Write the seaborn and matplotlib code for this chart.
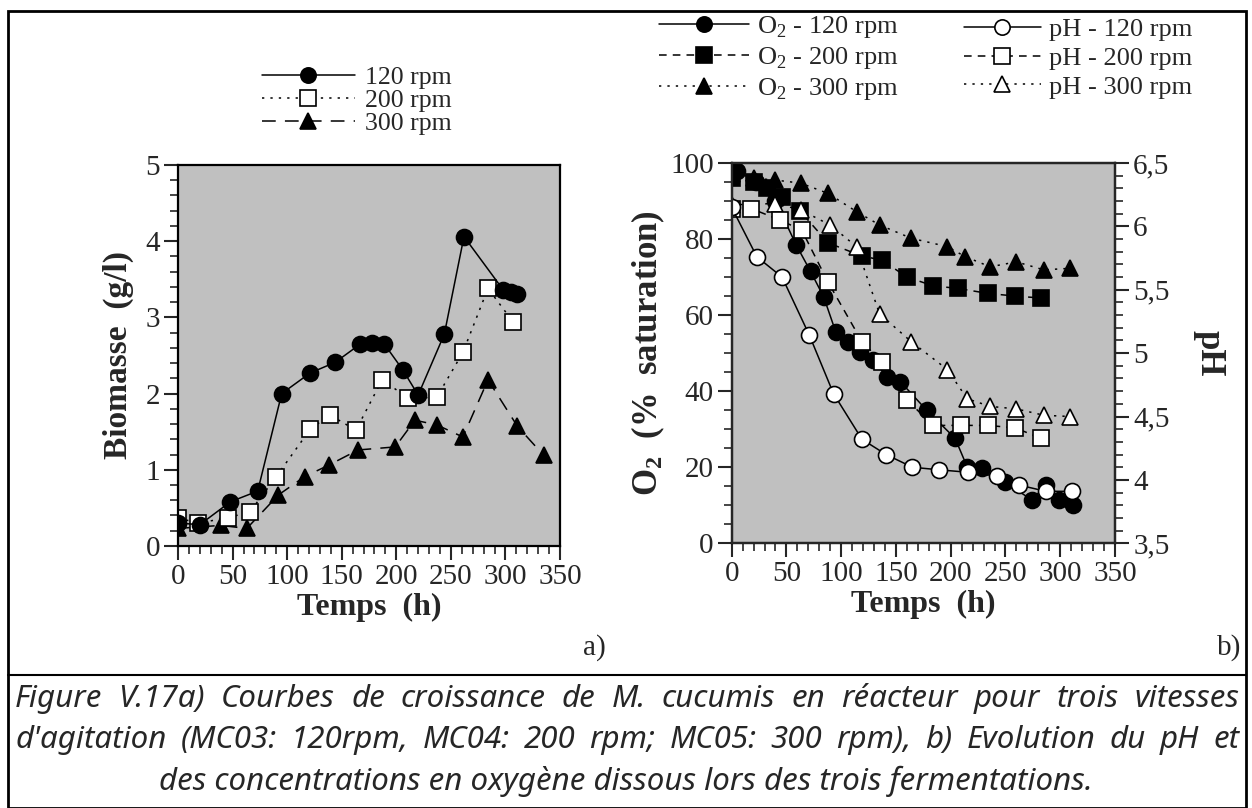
import numpy as np
import pandas as pd
import seaborn as sns
import matplotlib.pyplot as plt
from matplotlib.lines import Line2D
from matplotlib.patches import Rectangle
from matplotlib.ticker import MultipleLocator

# ---- data: a) biomass vs time ----
t_bio_120 = [0, 20, 48, 73, 95, 121, 144, 167, 178, 189, 206, 220, 244, 262, 298, 305, 311]
bio_120 = [0.30, 0.28, 0.58, 0.72, 2.00, 2.27, 2.41, 2.65, 2.66, 2.65, 2.31, 1.98, 2.78, 4.06, 3.36, 3.33, 3.31]
t_bio_200 = [0, 18, 46, 66, 90, 121, 139, 163, 187, 211, 237, 261, 284, 307]
bio_200 = [0.37, 0.30, 0.37, 0.45, 0.91, 1.53, 1.72, 1.52, 2.18, 1.94, 1.95, 2.54, 3.38, 2.94]
t_bio_300 = [0, 39, 63, 92, 116, 138, 165, 199, 217, 237, 261, 284, 311, 335]
bio_300 = [0.23, 0.27, 0.23, 0.67, 0.91, 1.06, 1.26, 1.30, 1.65, 1.59, 1.43, 2.18, 1.57, 1.19]

# ---- data: b) dissolved O2 and pH ----
t_o2_120 = [5, 22, 40, 59, 72, 84, 95, 106, 117, 129, 142, 154, 178, 204, 215, 229, 250, 274, 287, 299, 312]
o2_120 = [98, 95, 90, 78.4, 71.5, 64.8, 55.6, 53, 50.4, 48.2, 43.8, 42.5, 35, 27.6, 20.1, 19.7, 16, 11.4, 15.3, 11.4, 10.1]
t_o2_200 = [0, 20, 32, 46, 62, 88, 119, 137, 160, 184, 207, 234, 259, 282]
o2_200 = [96, 95, 93.5, 91, 87.5, 79, 75.5, 74.5, 70, 67.7, 67, 65.7, 65, 64.5]
t_o2_300 = [0, 20, 40, 63, 88, 114, 135, 164, 197, 213, 236, 260, 285, 309]
o2_300 = [97, 96, 95.5, 94.7, 92, 87.2, 83.7, 80.2, 78, 75.4, 72.7, 74, 71.9, 72.3]

t_ph_120 = [0, 23, 46, 71, 93, 119, 141, 165, 189, 216, 242, 262, 287, 311]
ph_120 = [6.15, 5.76, 5.60, 5.14, 4.68, 4.32, 4.20, 4.10, 4.08, 4.06, 4.03, 3.96, 3.91, 3.91]
t_ph_200 = [0, 18, 44, 64, 88, 119, 137, 160, 184, 209, 234, 259, 282]
ph_200 = [6.14, 6.14, 6.05, 5.97, 5.56, 5.09, 4.93, 4.63, 4.43, 4.43, 4.43, 4.41, 4.33]
t_ph_300 = [0, 40, 63, 90, 114, 135, 164, 197, 215, 236, 260, 285, 309]
ph_300 = [6.17, 6.18, 6.13, 6.01, 5.84, 5.31, 5.09, 4.87, 4.64, 4.58, 4.56, 4.51, 4.50]

ph_ticks = [3.5, 4, 4.5, 5, 5.5, 6, 6.5]
ph_ticklabels = ['3,5', '4', '4,5', '5', '5,5', '6', '6,5']

caption = [
    "Figure V.17a) Courbes de croissance de M. cucumis en réacteur pour trois vitesses",
    "d'agitation (MC03: 120rpm, MC04: 200 rpm; MC05: 300 rpm), b) Evolution du pH et",
    "des concentrations en oxygène dissous lors des trois fermentations.",
]

sns.set_theme(style="ticks")
plt.rcParams['font.family'] = ['Liberation Serif', 'DejaVu Serif']
plt.rcParams['mathtext.fontset'] = 'custom'
plt.rcParams['mathtext.rm'] = 'Liberation Serif'
plt.rcParams['mathtext.bf'] = 'Liberation Serif:bold'

BG = '#c0c0c0'
fig = plt.figure(figsize=(12.52, 8.08), dpi=100)
ax1 = fig.add_axes([0.1422, 0.3243, 0.3051, 0.4715])
ax2 = fig.add_axes([0.5844, 0.3276, 0.3062, 0.4707])
ax3 = ax2.twinx()

MS = {'o': 11.5, 's': 12, '^': 12}


def draw(ax, t, v, marker, filled, ls):
    sns.lineplot(x=t, y=v, ax=ax, color='black', marker=marker, markersize=MS[marker],
                 markerfacecolor='black' if filled else 'white', markeredgecolor='black',
                 markeredgewidth=1.2, linestyle=ls, linewidth=1.1, estimator=None,
                 sort=False, legend=False)


def handle(marker, filled, ls):
    return Line2D([], [], color='black', ls=ls, lw=1.1, marker=marker, ms=MS[marker] - 0.5,
                  mfc='black' if filled else 'white', mec='black', mew=1.2)


dot = (0, (1.5, 4))
dash = (0, (5, 4))
longdash = (0, (9, 6))

# a)
draw(ax1, t_bio_300, bio_300, '^', True, longdash)
draw(ax1, t_bio_200, bio_200, 's', False, dot)
draw(ax1, t_bio_120, bio_120, 'o', True, '-')

# b)
draw(ax2, t_o2_300, o2_300, '^', True, dot)
draw(ax2, t_o2_200, o2_200, 's', True, dash)
draw(ax2, t_o2_120, o2_120, 'o', True, '-')
draw(ax3, t_ph_300, ph_300, '^', False, dot)
draw(ax3, t_ph_200, ph_200, 's', False, dash)
draw(ax3, t_ph_120, ph_120, 'o', False, '-')

for ax in (ax1, ax2):
    ax.set_facecolor(BG)
    ax.set_xlim(0, 350)
    ax.xaxis.set_major_locator(MultipleLocator(50))
    ax.xaxis.set_minor_locator(MultipleLocator(10))
    ax.set_xlabel('Temps  (h)', fontsize=23, fontweight='bold', labelpad=2)
    for s in ax.spines.values():
        s.set_linewidth(1.6)
        s.set_color('black')

ax1.set_ylim(0, 5)
ax1.yaxis.set_major_locator(MultipleLocator(1))
ax1.yaxis.set_minor_locator(MultipleLocator(0.2))
ax1.set_ylabel('Biomasse  (g/l)', fontsize=24, fontweight='bold', labelpad=8)

ax2.set_ylim(0, 100)
ax2.yaxis.set_major_locator(MultipleLocator(20))
ax2.yaxis.set_minor_locator(MultipleLocator(5))
ax2.set_ylabel(r'$\mathbf{O_2}$  ($\mathbf{\%}$  saturation)', fontsize=25, fontweight='bold', labelpad=2)

ax3.set_ylim(3.5, 6.5)
ax3.yaxis.set_minor_locator(MultipleLocator(0.1))
ax3.set_yticks(ph_ticks)
ax3.set_yticklabels(ph_ticklabels)
ax3.set_ylabel('pH', fontsize=25, fontweight='bold', rotation=270, labelpad=40)
for s in ax3.spines.values():
    s.set_linewidth(1.6)

for ax in (ax1, ax2, ax3):
    ax.tick_params(which='major', direction='out', length=10, width=1.5, labelsize=21, pad=3)
    ax.tick_params(which='minor', direction='out', length=6, width=1.2)

# legends
h_a = [handle('o', True, '-'), handle('s', False, dot), handle('^', True, longdash)]
fig.legend(h_a, ['120 rpm', '200 rpm', '300 rpm'], loc='center', bbox_to_anchor=(0.285, 0.876),
           frameon=False, fontsize=18.5, handlelength=3.6, handletextpad=0.4, labelspacing=0.0,
           borderpad=0)

o2_handles = [handle('o', True, '-'), handle('s', True, dash), handle('^', True, dot)]
ph_handles = [handle('o', False, '-'), handle('s', False, dash), handle('^', False, dot)]
o2_labels = [r'O$_2$ - 120 rpm', r'O$_2$ - 200 rpm', r'O$_2$ - 300 rpm']
ph_labels = ['pH - 120 rpm', 'pH - 200 rpm', 'pH - 300 rpm']
leg_kw = dict(loc='center', frameon=False, fontsize=19, handletextpad=0.3,
              labelspacing=0.2, borderpad=0)
fig.legend(o2_handles, o2_labels, bbox_to_anchor=(0.622, 0.928), handlelength=3.4, **leg_kw)
fig.legend(ph_handles, ph_labels, bbox_to_anchor=(0.861, 0.928), handlelength=2.9, **leg_kw)

fig.text(0.475, 0.19, 'a)', fontsize=21, ha='center')
fig.text(0.982, 0.19, 'b)', fontsize=21, ha='center')

# frame and caption
fig.patches.append(Rectangle((0.006, 0.0), 0.989, 0.987, transform=fig.transFigure,
                             fill=False, lw=2, color='black'))
fig.add_artist(Line2D([0.006, 0.995], [0.165, 0.165], transform=fig.transFigure,
                      color='black', lw=1.5))

cap_kw = dict(fontsize=22.5, style='italic', family=['Noto Sans', 'DejaVu Sans'])
fig.canvas.draw()
renderer = fig.canvas.get_renderer()
x0, x1 = 0.012, 0.990
for line, yy in zip(caption[:2], [0.135, 0.084]):
    words = line.split(' ')
    texts = [fig.text(0, yy, w, ha='left', va='center', **cap_kw) for w in words]
    widths = [t.get_window_extent(renderer).width / fig.bbox.width for t in texts]
    gap = (x1 - x0 - sum(widths)) / (len(words) - 1)
    xx = x0
    for t, w in zip(texts, widths):
        t.set_x(xx)
        xx += w + gap
fig.text(0.5, 0.033, caption[2], ha='center', va='center', **cap_kw)

fig.savefig('out.png', dpi=100)
